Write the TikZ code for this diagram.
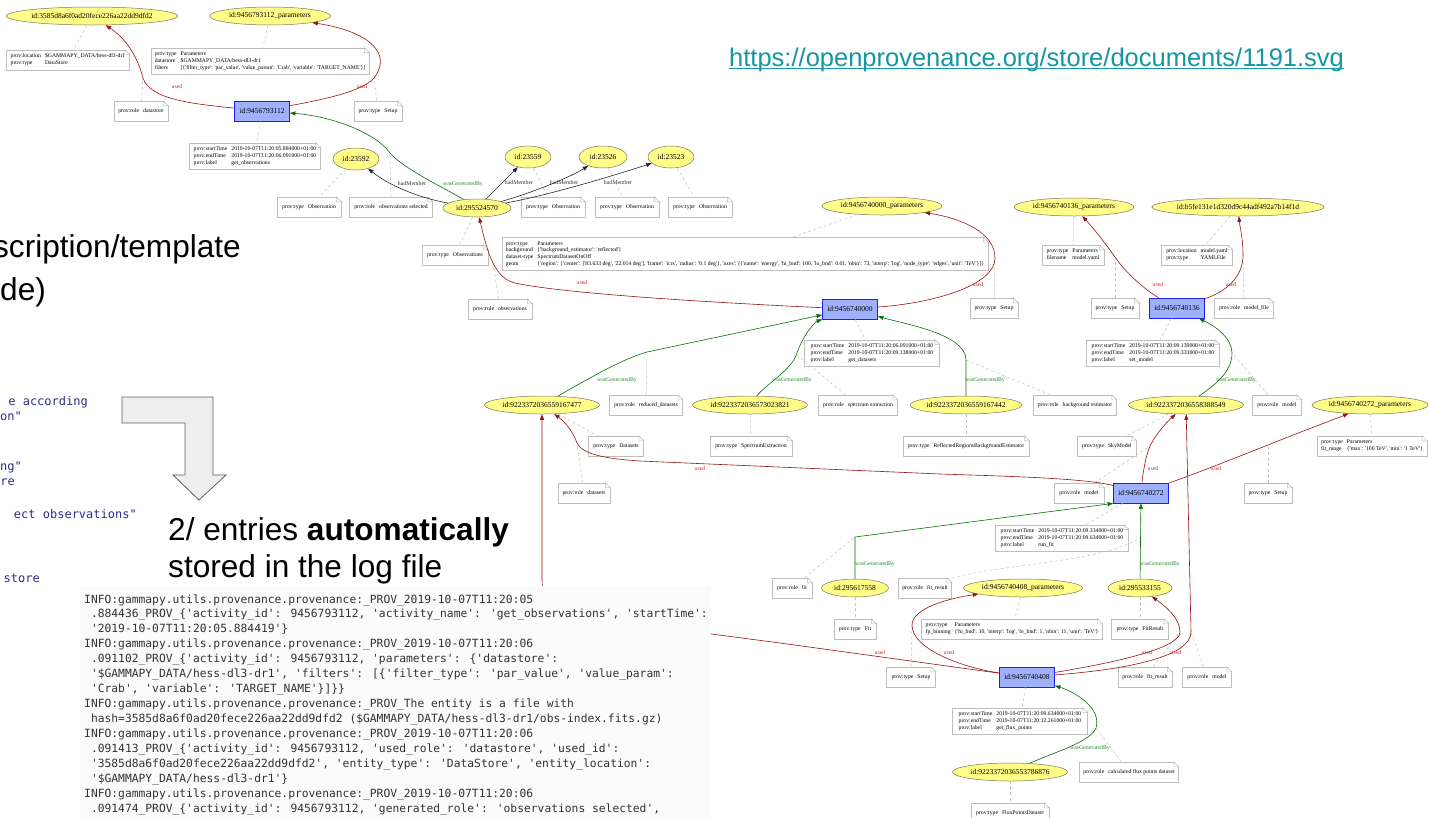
\documentclass[tikz,border=0pt]{standalone}
\usepackage{fontspec}
\setmainfont{Liberation Serif}
\newfontfamily\gvfam{Liberation Serif}
\newfontfamily\slidefam{Liberation Sans}
\newfontfamily\cmono{DejaVu Sans Mono}
\usetikzlibrary{arrows.meta,shapes.geometric,calc}

\definecolor{entfill}{RGB}{255,252,135}
\definecolor{entdraw}{RGB}{120,120,100}
\definecolor{actfill}{RGB}{159,177,252}
\definecolor{actdraw}{RGB}{30,30,240}
\definecolor{notedraw}{RGB}{190,190,190}
\definecolor{usedc}{RGB}{150,20,20}
\definecolor{usedl}{RGB}{225,40,40}
\definecolor{genc}{RGB}{10,110,10}
\definecolor{genl}{RGB}{40,140,40}
\definecolor{dashc}{RGB}{195,195,195}
\definecolor{urlc}{RGB}{20,150,165}
\definecolor{codec}{RGB}{45,45,140}
\definecolor{logc}{RGB}{50,50,50}
\definecolor{logbg}{RGB}{251,251,251}
\definecolor{arrfill}{RGB}{238,238,238}
\definecolor{arrdraw}{RGB}{95,95,95}

\newcommand\nodefont{\gvfam\fontsize{7.5}{8.5}\selectfont}
\newcommand\notefont{\gvfam\fontsize{5.7}{6.8}\selectfont}
\newcommand\lblfont{\gvfam\fontsize{5.8}{6.5}\selectfont}
\newcommand\slidefont{\slidefam\fontsize{31.6}{37}\selectfont}
\newcommand\codefont{\cmono\fontsize{12}{15}\selectfont}
\newcommand\logfont{\cmono\fontsize{11.3}{15}\selectfont}
\newcommand\ntab[1]{\begin{tabular}{@{}l@{\hspace{4pt}}l@{}}#1\end{tabular}}

\tikzset{
  ent/.style={ellipse, draw=entdraw, line width=0.5pt, fill=entfill, font=\nodefont, inner sep=0pt, minimum height=18pt},
  act/.style={rectangle, draw=actdraw, line width=0.8pt, fill=actfill, font=\nodefont, inner sep=1pt, minimum width=55pt, minimum height=20pt},
  notebox/.style={rectangle, draw=notedraw, line width=0.5pt, fill=white, font=\notefont, inner xsep=4pt, inner ysep=3pt, minimum height=20pt},
  lnk/.style={draw=dashc, line width=0.5pt, dash pattern=on 3pt off 2.5pt},
  usedE/.style={draw=usedc, line width=0.6pt, -{Triangle[length=5.5pt,width=4pt]}},
  genE/.style={draw=genc, line width=0.6pt, -{Triangle[length=5.5pt,width=4pt]}},
  memE/.style={draw=black!85, line width=0.6pt, -{Triangle[length=5.5pt,width=4pt]}},
  usedlbl/.style={text=usedl, font=\lblfont, inner sep=0.5pt},
  genlbl/.style={text=genl, font=\lblfont, inner sep=0.5pt},
  memlbl/.style={text=black!80, font=\lblfont, inner sep=0.5pt},
  slidetxt/.style={font=\slidefont, inner sep=0pt},
  codetxt/.style={font=\codefont, text=codec, inner sep=0pt, anchor=base east},
  logtxt/.style={font=\logfont, text=logc, inner sep=0pt, anchor=base west},
}
\newcommand\pnote[4]{%
  \node[notebox, minimum width=#3] (#1) at #2 {\ntab{#4}};
  \fill[white] ($(#1.north east)+(-5pt,0.8pt)$) -- ($(#1.north east)+(0.8pt,0.8pt)$) -- ($(#1.north east)+(0.8pt,-5pt)$) -- cycle;
  \draw[notedraw, line width=0.5pt] ($(#1.north east)+(-5pt,0pt)$) |- ($(#1.north east)+(0pt,-5pt)$) -- cycle;
}

\begin{document}
\begin{tikzpicture}[x=1pt,y=-1pt]
\useasboundingbox (0,0) rectangle (1429,817);
\clip (0,0) rectangle (1429,817);
\fill[white] (0,0) rectangle (1429,817);

% ---------- slide texts ----------
\node[slidetxt, anchor=base east] (t1) at (241,257) {scription/template};
\node[slidetxt, anchor=base west] (t2) at (0,300) {de)};
\node[codetxt] (c1) at (88,405) {e according};
\node[codetxt] (c2) at (22,420) {on"};
\node[codetxt] (c3) at (22,470) {ng"};
\node[codetxt] (c4) at (15,485) {re};
\node[codetxt] (c5) at (137,518) {ect observations"};
\node[codetxt] (c6) at (40,582) {store};
\draw[draw=arrdraw, fill=arrfill, line width=0.8pt] (122,397) -- (213,397) -- (213,475) -- (226,475) -- (199,500) -- (173,475) -- (185,475) -- (185,423) -- (122,423) -- cycle;
\node[slidetxt, anchor=base west] (t3) at (168,540) {2/ entries \textbf{automatically}};
\node[slidetxt, anchor=base west] (t4) at (168,577) {stored in the log file};
\node[font=\slidefam\fontsize{25.5}{30}\selectfont, text=urlc, inner sep=0pt, anchor=base west] (url) at (729,66) {https://openprovenance.org/store/documents/1191.svg};
\draw[urlc, line width=1.2pt] ($(url.base west)+(0pt,-2.6pt)$) -- ($(url.base east)+(0pt,-2.6pt)$);

% ---------- graph nodes ----------
\node[ent, minimum width=170pt] (E1) at (92,16) {id:3585d8a6f0ad20fece226aa22dd9dfd2};
\node[ent, minimum width=121pt] (E2) at (270,16) {id:9456793112\_parameters};
\pnote{N1}{(68,60)}{123pt}{prov:location & \$GAMMAPY\_DATA/hess-dl3-dr1\\ prov:type & DataStore}
\pnote{N2}{(260,61)}{214pt}{prov:type & Parameters\\ datastore & \$GAMMAPY\_DATA/hess-dl3-dr1\\ filters & [\{'filter\_type': 'par\_value', 'value\_param': 'Crab', 'variable': 'TARGET\_NAME'\}]}
\pnote{N3}{(141,111)}{54pt}{prov:role & datastore}
\node[act] (A1) at (262,111) {id:9456793112};
\pnote{N4}{(378,111)}{48pt}{prov:type & Setup}
\pnote{N5}{(255,156)}{130pt}{prov:startTime & 2019-10-07T11:20:05.884000+01:00\\ prov:endTime & 2019-10-07T11:20:06.091000+01:00\\ prov:label & get\_observations}

\node[ent, minimum width=46pt, minimum height=22pt] (E3) at (356,159) {id:23592};
\node[ent, minimum width=46pt, minimum height=22pt] (E4) at (528,157) {id:23559};
\node[ent, minimum width=48pt, minimum height=22pt] (E5) at (603,157) {id:23526};
\node[ent, minimum width=46pt, minimum height=22pt] (E6) at (671,157) {id:23523};
\node[ent, minimum width=68pt] (E7) at (477,208) {id:295524570};
\pnote{N6}{(309,207)}{64pt}{prov:type & Observation}
\pnote{N7}{(391,207)}{83pt}{prov:role & observations selected}
\pnote{N8}{(553,207)}{64pt}{prov:type & Observation}
\pnote{N9}{(627,207)}{64pt}{prov:type & Observation}
\pnote{N10}{(700,207)}{64pt}{prov:type & Observation}

\node[ent, minimum width=120pt] (E8) at (882,206) {id:9456740000\_parameters};
\node[ent, minimum width=120pt] (E9) at (1074,207) {id:9456740136\_parameters};
\node[ent, minimum width=171pt] (E10) at (1238,207) {id:b5fe131e1d320d9c44adf492a7b14f1d};

\pnote{N11}{(455,255)}{66pt}{prov:type & Observations}
\pnote{N13}{(745,254)}{470pt}{prov:type & Parameters\\ background & \{'background\_estimator': 'reflected'\}\\ dataset-type & SpectrumDatasetOnOff\\ geom & \{'region': \{'center': ['83.633 deg', '22.014 deg'], 'frame': 'icrs', 'radius': '0.1 deg'\}, 'axes': [\{'name': 'energy', 'hi\_bnd': 100, 'lo\_bnd': 0.01, 'nbin': 73, 'interp': 'log', 'node\_type': 'edges', 'unit': 'TeV'\}]\}}
\pnote{N15}{(1073,255)}{62pt}{prov:type & Parameters\\ filename & model.yaml}
\pnote{N16}{(1197,255)}{71pt}{prov:location & model.yaml\\ prov:type & YAMLFile}

\pnote{N12}{(500,309)}{64pt}{prov:role & observations}
\node[act] (A2) at (850,309) {id:9456740000};
\pnote{N14}{(994,308)}{48pt}{prov:type & Setup}
\pnote{N17}{(1115,308)}{48pt}{prov:type & Setup}
\node[act] (A3) at (1177,308) {id:9456740136};
\pnote{N18}{(1244,308)}{59pt}{prov:role & model\_file}

\pnote{NA2}{(872,353)}{135pt}{prov:startTime & 2019-10-07T11:20:06.091000+01:00\\ prov:endTime & 2019-10-07T11:20:09.138000+01:00\\ prov:label & get\_datasets}
\pnote{NA3}{(1153,353)}{133pt}{prov:startTime & 2019-10-07T11:20:09.139000+01:00\\ prov:endTime & 2019-10-07T11:20:09.333000+01:00\\ prov:label & set\_model}

\node[ent, minimum width=115pt] (E11) at (542,405) {id:9223372036559167477};
\pnote{N19}{(646,405)}{73pt}{prov:role & reduced\_datasets}
\node[ent, minimum width=115pt] (E12) at (750,405) {id:9223372036573023821};
\pnote{N20}{(858,405)}{79pt}{prov:role & spectrum extraction}
\node[ent, minimum width=112pt] (E13) at (966,405) {id:9223372036559167442};
\pnote{N21}{(1075,405)}{83pt}{prov:role & background estimator}
\node[ent, minimum width=115pt] (E14) at (1186,405) {id:9223372036558388549};
\pnote{N22}{(1277,405)}{49pt}{prov:role & model}
\node[ent, minimum width=116pt] (E15) at (1370,405) {id:9456740272\_parameters};

\pnote{N23}{(616,446)}{55pt}{prov:type & Datasets}
\pnote{N24}{(751,446)}{82pt}{prov:type & SpectrumExtraction}
\pnote{N25}{(966,446)}{126pt}{prov:type & ReflectedRegionsBackgroundEstimator}
\pnote{N26}{(1107,446)}{59pt}{prov:type & SkyModel}
\pnote{N27}{(1372,446)}{109pt}{prov:type & Parameters\\ fit\_range & \{'max': '100 TeV', 'min': '1 TeV'\}}

\pnote{N28}{(584,493)}{52pt}{prov:role & datasets}
\pnote{N29}{(1079,493)}{50pt}{prov:role & model}
\node[act] (A4) at (1141,493) {id:9456740272};
\pnote{N30}{(1268,493)}{48pt}{prov:type & Setup}
\pnote{NA4}{(1062,538)}{133pt}{prov:startTime & 2019-10-07T11:20:09.334000+01:00\\ prov:endTime & 2019-10-07T11:20:09.634000+01:00\\ prov:label & run\_fit}

\pnote{N31}{(792,588)}{40pt}{prov:role & fit}
\node[ent, minimum width=67pt] (E16) at (855,588) {id:295617558};
\pnote{N32}{(925,588)}{53pt}{prov:role & fit\_result}
\node[ent, minimum width=119pt] (E17) at (1023,588) {id:9456740408\_parameters};
\node[ent, minimum width=64pt] (E18) at (1140,588) {id:295533155};

\pnote{N33}{(855,629)}{42pt}{prov:type & Fit}
\pnote{N34}{(1012,629)}{179pt}{prov:type & Parameters\\ fp\_binning & \{'hi\_bnd': 10, 'interp': 'log', 'lo\_bnd': 1, 'nbin': 11, 'unit': 'TeV'\}}
\pnote{N35}{(1140,629)}{57pt}{prov:type & FitResult}

\pnote{N36}{(911,677)}{49pt}{prov:type & Setup}
\node[act] (A5) at (1027,677) {id:9456740408};
\pnote{N37}{(1145,677)}{54pt}{prov:role & fit\_result}
\pnote{N38}{(1207,677)}{49pt}{prov:role & model}
\pnote{NA5}{(1020,721)}{135pt}{prov:startTime & 2019-10-07T11:20:09.634000+01:00\\ prov:endTime & 2019-10-07T11:20:12.261000+01:00\\ prov:label & get\_flux\_points}

\node[ent, minimum width=115pt] (E19) at (1010,772) {id:9223372036553786876};
\pnote{N39}{(1129,772)}{99pt}{prov:role & calculated flux points dataset}
\pnote{N40}{(1010,813)}{78pt}{prov:type & FluxPointsDataset}

% ---------- dashed attachments ----------
\draw[lnk] (E1) -- (N1);
\draw[lnk] (E2) -- (N2);
\draw[lnk] (N3) -- (143,78);
\draw[lnk] (N4) -- (374,78);
\draw[lnk] (A1) -- (N5);
\draw[lnk] (E3) -- (N6);
\draw[lnk] (N7) -- (390,153);
\draw[lnk] (E4) -- (N8);
\draw[lnk] (E5) -- (N9);
\draw[lnk] (E6) -- (N10);
\draw[lnk] (E7) -- (N11);
\draw[lnk] (N12) -- (493,262);
\draw[lnk] (E8) -- (N13);
\draw[lnk] (N14) -- (995,258);
\draw[lnk] (E9) -- (N15);
\draw[lnk] (E10) -- (N16);
\draw[lnk] (N17) -- (1115,257);
\draw[lnk] (N18) -- (1243,255);
\draw[lnk] (A2) -- (NA2);
\draw[lnk] (A3) -- (NA3);
\draw[lnk] (N19) -- (647,352);
\draw[lnk] (N20) -- (797,355);
\draw[lnk] (N21) -- (966,360);
\draw[lnk] (N22) -- (1232,353);
\draw[lnk] (E11) -- (N23);
\draw[lnk] (E12) -- (N24);
\draw[lnk] (E13) -- (N25);
\draw[lnk] (E14) -- (N26);
\draw[lnk] (E15) -- (N27);
\draw[lnk] (N28) -- (577,443);
\draw[lnk] (N29) -- (1150,446);
\draw[lnk] (N30) -- (1268,445);
\draw[lnk] (A4) -- (NA4);
\draw[lnk] (N31) -- (855,537);
\draw[lnk] (N32) .. controls (990,565) and (1110,562) .. (1140,537);
\draw[lnk] (E16) -- (N33);
\draw[lnk] (E17) -- (N34);
\draw[lnk] (E18) -- (N35);
\draw[lnk] (N36) -- (912,625);
\draw[lnk] (N37) -- (1180,632);
\draw[lnk] (N38) -- (1191,632);
\draw[lnk] (A5) -- (NA5);
\draw[lnk] (N39) -- (1096,728);
\draw[lnk] (E19) -- (N40);

% ---------- edges ----------
\draw[usedE] (A1) .. controls (195,104) and (150,100) .. (143,78) .. controls (137,55) and (125,38) .. (E1);
\draw[usedE] (A1) .. controls (320,100) and (362,92) .. (374,78) .. controls (392,55) and (372,32) .. (E2);
\draw[genE] (E7) .. controls (445,188) and (405,170) .. (390,153) .. controls (375,132) and (330,116) .. (A1);
\draw[memE] (E7) .. controls (430,200) and (395,190) .. (E3);
\draw[memE] (E7) -- (E4);
\draw[memE] (E7) .. controls (525,195) and (565,180) .. (E5);
\draw[memE] (E7) .. controls (540,197) and (600,180) .. (E6);

\draw[usedE] (A2) .. controls (700,302) and (560,293) .. (515,283) .. controls (495,278) and (488,255) .. (E7);
\draw[usedE] (A2) .. controls (935,303) and (995,285) .. (995,258) .. controls (995,232) and (960,218) .. (E8);
\draw[usedE] (A3) .. controls (1145,290) and (1125,272) .. (1115,257) .. controls (1105,243) and (1095,230) .. (E9);
\draw[usedE] (A3) .. controls (1225,292) and (1243,278) .. (1243,255) .. controls (1243,238) and (1240,228) .. (E10);

\draw[genE] (E11) .. controls (590,378) and (620,360) .. (647,352) -- (A2);
\draw[genE] (E12) .. controls (765,385) and (792,370) .. (797,353) .. controls (803,335) and (815,322) .. (A2);
\draw[genE] (E13) -- (966,360) .. controls (966,335) and (910,325) .. (A2);
\draw[genE] (E14) .. controls (1215,385) and (1232,372) .. (1232,353) .. controls (1232,338) and (1215,326) .. (A3);

\draw[usedE] (A4) .. controls (1085,478) and (1000,476) .. (940,474) -- (640,461) .. controls (595,458) and (582,452) .. (577,443) .. controls (572,430) and (565,422) .. (E11);
\draw[usedE] (A4) .. controls (1143,472) and (1146,455) .. (1150,446) .. controls (1157,432) and (1168,421) .. (E14);
\draw[usedE] (A4) .. controls (1200,472) and (1240,456) .. (1268,445) .. controls (1300,432) and (1330,421) .. (E15);

\draw[genE] (E16) -- (855,537) -- (A4.south west);
\draw[genE] (E18) -- (A4);

\draw[usedE] (A5) -- (780,643) -- (620,622) .. controls (560,614) and (542,605) .. (542,580) -- (E11);
\draw[usedE] (A5) .. controls (965,668) and (912,650) .. (912,625) .. controls (912,608) and (950,598) .. (E17);
\draw[usedE] (A5) .. controls (1100,665) and (1180,650) .. (1180,632) .. controls (1180,618) and (1165,606) .. (E18);
\draw[usedE] (A5) .. controls (1120,670) and (1191,658) .. (1191,632) -- (E14);
\draw[genE] (E19) .. controls (1055,752) and (1090,742) .. (1096,728) .. controls (1102,708) and (1075,692) .. (A5);

% ---------- edge labels ----------
\node[usedlbl] (lu1) at (177,87) {used};
\node[usedlbl] (lu2) at (362,87) {used};
\node[memlbl] (lm1) at (412,184) {hadMember};
\node[genlbl] (lg1) at (463,184) {wasGeneratedBy};
\node[memlbl] (lm2) at (519,183) {hadMember};
\node[memlbl] (lm3) at (564,183) {hadMember};
\node[memlbl] (lm4) at (618,183) {hadMember};
\node[usedlbl] (lu3) at (582,283) {used};
\node[usedlbl] (lu4) at (978,285) {used};
\node[usedlbl] (lu5) at (1158,285) {used};
\node[usedlbl] (lu6) at (1231,285) {used};
\node[genlbl] (lg2) at (617,380) {wasGeneratedBy};
\node[genlbl] (lg3) at (792,380) {wasGeneratedBy};
\node[genlbl] (lg4) at (985,380) {wasGeneratedBy};
\node[genlbl] (lg5) at (1236,380) {wasGeneratedBy};
\node[usedlbl] (lu7) at (700,469) {used};
\node[usedlbl] (lu8) at (1153,469) {used};
\node[usedlbl] (lu9) at (1216,469) {used};
\node[genlbl] (lg6) at (875,564) {wasGeneratedBy};
\node[genlbl] (lg7) at (1160,564) {wasGeneratedBy};
\node[usedlbl] (lu10) at (880,653) {used};
\node[usedlbl] (lu11) at (949,653) {used};
\node[usedlbl] (lu12) at (1147,653) {used};
\node[usedlbl] (lu13) at (1176,653) {used};
\node[genlbl] (lg8) at (1090,748) {wasGeneratedBy};

% ---------- log image ----------
\fill[logbg] (80,586) rectangle (711,817);
\node[logtxt] (L1) at (84,603) {INFO:gammapy.utils.provenance.provenance:\_PROV\_2019-10-07T11:20:05};
\node[logtxt] (L2) at (90.8,617.9) {.884436\_PROV\_\{'activity\_id': 9456793112, 'activity\_name': 'get\_observations', 'startTime':};
\node[logtxt] (L3) at (90.8,632.9) {'2019-10-07T11:20:05.884419'\}};
\node[logtxt] (L4) at (84,647.8) {INFO:gammapy.utils.provenance.provenance:\_PROV\_2019-10-07T11:20:06};
\node[logtxt] (L5) at (90.8,662.7) {.091102\_PROV\_\{'activity\_id': 9456793112, 'parameters': \{'datastore':};
\node[logtxt] (L6) at (90.8,677.7) {'\$GAMMAPY\_DATA/hess-dl3-dr1', 'filters': [\{'filter\_type': 'par\_value', 'value\_param':};
\node[logtxt] (L7) at (90.8,692.6) {'Crab', 'variable': 'TARGET\_NAME'\}]\}\}};
\node[logtxt] (L8) at (84,707.5) {INFO:gammapy.utils.provenance.provenance:\_PROV\_The entity is a file with};
\node[logtxt] (L9) at (90.8,722.4) {hash=3585d8a6f0ad20fece226aa22dd9dfd2 (\$GAMMAPY\_DATA/hess-dl3-dr1/obs-index.fits.gz)};
\node[logtxt] (L10) at (84,737.4) {INFO:gammapy.utils.provenance.provenance:\_PROV\_2019-10-07T11:20:06};
\node[logtxt] (L11) at (90.8,752.3) {.091413\_PROV\_\{'activity\_id': 9456793112, 'used\_role': 'datastore', 'used\_id':};
\node[logtxt] (L12) at (90.8,767.2) {'3585d8a6f0ad20fece226aa22dd9dfd2', 'entity\_type': 'DataStore', 'entity\_location':};
\node[logtxt] (L13) at (90.8,782.2) {'\$GAMMAPY\_DATA/hess-dl3-dr1'\}};
\node[logtxt] (L14) at (84,797.1) {INFO:gammapy.utils.provenance.provenance:\_PROV\_2019-10-07T11:20:06};
\node[logtxt] (L15) at (90.8,812) {.091474\_PROV\_\{'activity\_id': 9456793112, 'generated\_role': 'observations selected',};
\end{tikzpicture}
\end{document}
